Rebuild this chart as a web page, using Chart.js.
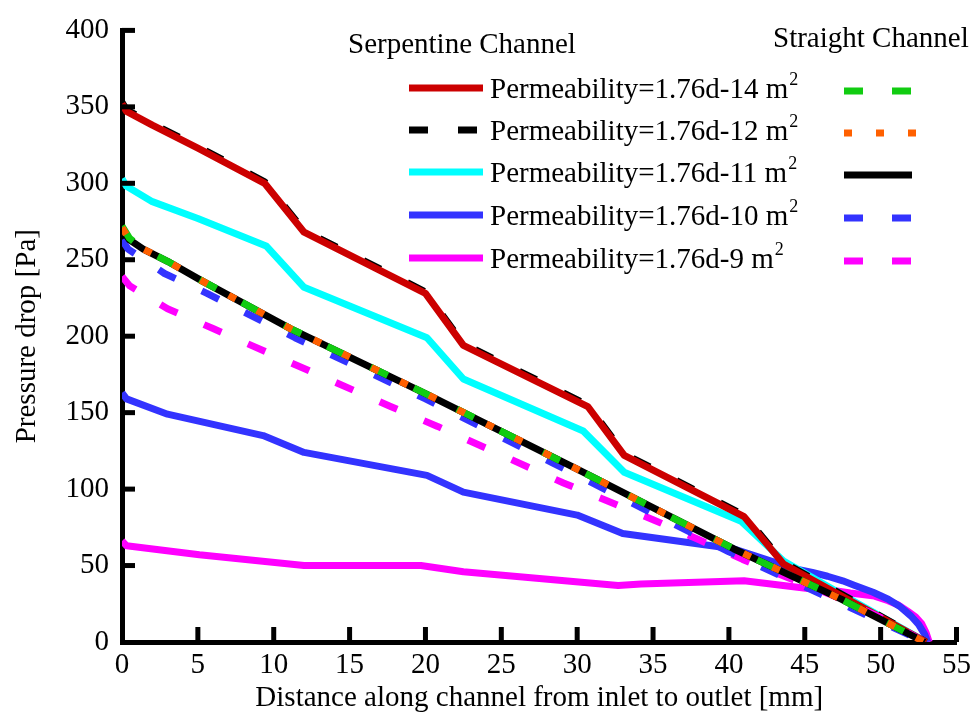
<!DOCTYPE html>
<html>
<head>
<meta charset="utf-8">
<script src="https://cdn.jsdelivr.net/npm/chart.js@4.4.0/dist/chart.umd.min.js"></script>
<style>
    html, body { margin: 0; padding: 0; background: #fff; }
    #wrap { width: 977px; height: 719px; }
</style>
</head>
<body>
<div id="wrap"><canvas id="pressureChart" width="977" height="719"></canvas></div>
<script>
const FONT = '"Liberation Serif", "Times New Roman", serif'

// axis ticks
const xTicks = [0, 5, 10, 15, 20, 25, 30, 35, 40, 45, 50, 55]
const yTicks = [0, 50, 100, 150, 200, 250, 300, 350, 400]

const permeabilities = ['1.76d-14', '1.76d-12', '1.76d-11', '1.76d-10', '1.76d-9']

// serpentine channel (distance mm, pressure drop Pa)
const serp14X = [0, 0.3, 2, 5, 9.4, 12, 20, 22.5, 30.7, 33.1, 41, 43.6, 48, 53]
const serp14Y = [352, 347, 338, 323, 300, 268, 228, 194, 154, 122, 82, 51, 27, 0]
const serp12X = [0, 0.3, 2, 5, 9.4, 12, 20, 22.5, 30.7, 33.1, 41, 43.6, 48, 53]
const serp12Y = [353, 348, 339, 324, 301, 269, 229, 195, 155, 123, 83, 52, 28, 0]
const serp11X = [0, 0.3, 2, 5, 9.5, 12, 20.1, 22.5, 30.4, 33.1, 40.8, 43.6, 48, 53]
const serp11Y = [303, 298, 288, 277, 259, 232, 199, 172, 138, 111, 79, 53, 28, 0]
const serp10X = [0, 0.3, 3, 9.3, 12, 20.1, 22.5, 30, 33, 40.3, 44.3, 45.5, 46.5, 47.5, 48.3, 49.5, 50.5, 51.3, 52, 52.5, 52.9, 53.1]
const serp10Y = [163, 159, 149, 135, 124, 109, 98, 83, 71, 61, 48, 45.5, 43, 40, 37, 32.5, 28, 23, 17, 11.5, 5, 0]
const serp9X = [0, 0.3, 5.1, 12, 19.7, 22.5, 32.7, 34.2, 41, 45.2, 47, 48, 49.6, 50.5, 51.2, 51.8, 52.3, 52.7, 53, 53.2]
const serp9Y = [66, 63, 57, 50, 50, 46, 37, 38, 40, 35, 33.5, 32, 30, 27, 24, 20, 16.5, 12, 6, 0]

// straight channel
const str14X = [0, 0.5, 1.4, 3, 5.3, 11.1, 20.1, 30, 40.3, 47.4, 52.9]
const str14Y = [272, 264, 257, 249, 236, 205, 162, 113, 61, 28, 0]
const str12X = [0, 0.5, 1.4, 3, 5.3, 11.1, 20.1, 30, 40.3, 47.4, 52.9]
const str12Y = [271, 263, 257, 249, 236, 205, 162, 113, 61, 28, 0]
const str11X = [0, 0.5, 1.4, 3, 5.3, 11.1, 20.1, 30, 40.3, 47.4, 52.9]
const str11Y = [270, 263, 257, 249, 236, 205, 162, 113, 61, 28, 0]
const str10X = [0, 0.4, 2.8, 5.6, 11.4, 20, 28.4, 34.6, 40, 47, 52.9]
const str10Y = [263, 257, 241, 228, 199, 159, 117, 86, 59, 27, 0]
const str9X = [0, 0.5, 3, 6, 17.7, 20.8, 29.1, 35, 38, 40.9, 43.9, 46.7, 50, 52.9]
const str9Y = [239, 233, 218, 205, 154, 141, 104, 80, 67, 54, 42, 31, 16, 0]

function pts(xs, ys) {
    return xs.map((x, i) => ({ x: x, y: ys[i] }))
}

function line(label, xs, ys, color, dash, group) {
    return {
        label: label,
        group: group,
        data: pts(xs, ys),
        borderColor: color,
        backgroundColor: color,
        borderWidth: 7,
        borderDash: dash,
        borderCapStyle: 'butt',
        borderJoinStyle: 'round',
        pointRadius: 0,
        tension: 0,
        fill: false,
    }
}

// first dataset is drawn on top
const datasets = [
    line('Straight 1.76d-12', str12X, str12Y, '#ff6000', [8, 24], 'straight'),
    line('Straight 1.76d-14', str14X, str14Y, '#11cc11', [19, 29], 'straight'),
    line('Straight 1.76d-11', str11X, str11Y, '#000000', [], 'straight'),
    line('Straight 1.76d-10', str10X, str10Y, '#3333ff', [19, 29], 'straight'),
    line('Straight 1.76d-9', str9X, str9Y, '#ff00ff', [19, 29], 'straight'),
    line('Serpentine 1.76d-14', serp14X, serp14Y, '#cc0000', [], 'serp'),
    line('Serpentine 1.76d-12', serp12X, serp12Y, '#000000', [19, 30], 'serp'),
    line('Serpentine 1.76d-11', serp11X, serp11Y, '#00ffff', [], 'serp'),
    line('Serpentine 1.76d-10', serp10X, serp10Y, '#3333ff', [], 'serp'),
    line('Serpentine 1.76d-9', serp9X, serp9Y, '#ff00ff', [], 'serp'),
]

// ticks pointing into the plot
const inwardTicks = {
    id: 'inwardTicks',
    afterDatasetsDraw(chart) {
        const { ctx, scales: { x, y } } = chart
        ctx.save()
        ctx.strokeStyle = '#000'
        ctx.lineWidth = 5
        x.ticks.forEach(t => {
            if (t.value === 0) return
            const px = x.getPixelForValue(t.value)
            ctx.beginPath()
            ctx.moveTo(px, y.bottom)
            ctx.lineTo(px, y.bottom - 15)
            ctx.stroke()
        })
        y.ticks.forEach(t => {
            if (t.value === 0) return
            const py = y.getPixelForValue(t.value)
            ctx.beginPath()
            ctx.moveTo(x.left, py)
            ctx.lineTo(x.left + 13, py)
            ctx.stroke()
        })
        ctx.restore()
    }
}

// two-column legend
const channelLegend = {
    id: 'channelLegend',
    afterDraw(chart) {
        const ctx = chart.ctx
        const sets = chart.data.datasets
        const serp = sets.filter(d => d.group === 'serp')
        const straight = ['Straight 1.76d-14', 'Straight 1.76d-12', 'Straight 1.76d-11', 'Straight 1.76d-10', 'Straight 1.76d-9']
            .map(l => sets.find(d => d.label === l))
        const rows = [88, 130, 172, 215, 258]

        ctx.save()
        ctx.fillStyle = '#000'
        ctx.textBaseline = 'alphabetic'
        ctx.font = '29px ' + FONT
        ctx.fillText('Serpentine Channel', 348, 53)
        ctx.fillText('Straight Channel', 773, 47)

        function sample(ds, x0, x1, yy) {
            ctx.save()
            ctx.strokeStyle = ds.borderColor
            ctx.lineWidth = 7
            ctx.lineCap = 'butt'
            ctx.setLineDash(ds.borderDash)
            ctx.beginPath()
            ctx.moveTo(x0, yy)
            ctx.lineTo(x1, yy)
            ctx.stroke()
            ctx.restore()
        }

        serp.forEach((ds, i) => {
            const yy = rows[i]
            sample(ds, 409, 483, yy)
            const txt = 'Permeability=' + permeabilities[i] + ' m'
            ctx.font = '29px ' + FONT
            ctx.fillText(txt, 490, yy + 10)
            const w = ctx.measureText(txt).width
            ctx.font = '18px ' + FONT
            ctx.fillText('2', 490 + w + 1, yy - 3)
        })

        straight.forEach((ds, i) => {
            const yy = rows[i] + 3
            const len = ds.borderDash[0] === 8 ? 72 : 68
            sample(ds, 844, 844 + len, yy)
        })
        ctx.restore()
    }
}

const ctx = document.getElementById('pressureChart')
const chart = new Chart(ctx, {
    type: 'line',
    data: { datasets: datasets },
    options: {
        responsive: false,
        animation: false,
        layout: { padding: { left: 6, top: 22, right: 20, bottom: 0 } },
        plugins: {
            legend: { display: false },
            tooltip: { enabled: false },
        },
        scales: {
            x: {
                type: 'linear',
                min: 0,
                max: 55,
                afterBuildTicks: s => { s.ticks = xTicks.map(v => ({ value: v })) },
                afterFit: s => { s.height = 77 },
                grid: { display: false, drawTicks: false },
                border: { display: true, width: 5, color: '#000' },
                ticks: { color: '#000', padding: 6, font: { family: FONT, size: 29 } },
                title: {
                    display: true,
                    text: 'Distance along channel from inlet to outlet [mm]',
                    color: '#000',
                    font: { family: FONT, size: 29 },
                    padding: { top: 0, bottom: 3 },
                },
            },
            y: {
                type: 'linear',
                min: 0,
                max: 400,
                afterBuildTicks: s => { s.ticks = yTicks.map(v => ({ value: v })) },
                afterFit: s => { s.width = 116 },
                grid: { display: false, drawTicks: false },
                border: { display: true, width: 5, color: '#000' },
                ticks: { color: '#000', padding: 13, font: { family: FONT, size: 29 } },
                title: {
                    display: true,
                    text: 'Pressure drop [Pa]',
                    color: '#000',
                    font: { family: FONT, size: 29 },
                    padding: { top: 4, bottom: 4 },
                },
            },
        },
    },
    plugins: [inwardTicks, channelLegend],
})
</script>
</body>
</html>
